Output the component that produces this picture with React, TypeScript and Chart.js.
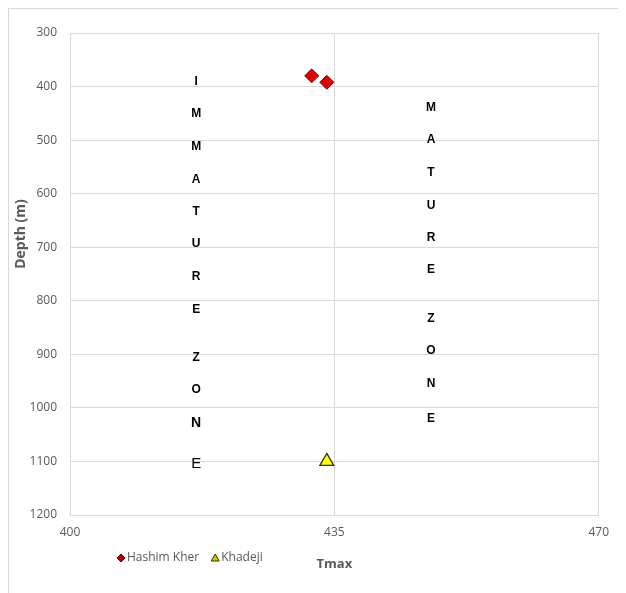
import React, { useEffect, useRef } from "react";
import { Chart, registerables } from "chart.js";

Chart.register(...registerables);

const hashimTmax = [432, 434];
const hashimDepth = [380, 392];
const khadejiTmax = [434];
const khadejiDepth = [1100];

const immatureLetters = ["I", "M", "M", "A", "T", "U", "R", "E", "Z", "O", "N", "E"];
const immatureDepths = [390, 450, 513, 573, 633, 693, 755, 816, 906, 966, 1029, 1104];
const immatureTmax = 416.7;

const matureLetters = ["M", "A", "T", "U", "R", "E", "Z", "O", "N", "E"];
const matureDepths = [440, 500, 560, 622, 682, 742, 834, 893, 955, 1020];
const matureTmax = 447.8;

const xTicks = [400, 435, 470];
const yTitle = "Depth (m)";

const FONT = "'Open Sans', 'Liberation Sans', sans-serif";

const letterPlugin = {
  id: "zoneLetters",
  afterDatasetsDraw(chart: any) {
    const { ctx, scales } = chart;
    const xs = scales.x;
    const ys = scales.y;
    ctx.save();
    ctx.fillStyle = "#000";
    ctx.textAlign = "center";
    ctx.textBaseline = "middle";
    immatureLetters.forEach((l, i) => {
      const last = i >= immatureLetters.length - 2;
      if (i === immatureLetters.length - 1) ctx.font = "15px 'Liberation Sans', Arial, sans-serif";
      else if (last) ctx.font = "bold 14px 'Liberation Sans', Arial, sans-serif";
      else ctx.font = "bold 12px 'Liberation Sans', Arial, sans-serif";
      ctx.fillText(l, xs.getPixelForValue(immatureTmax), ys.getPixelForValue(immatureDepths[i]));
    });
    ctx.font = "bold 12px 'Liberation Sans', Arial, sans-serif";
    matureLetters.forEach((l, i) => {
      ctx.fillText(l, xs.getPixelForValue(matureTmax), ys.getPixelForValue(matureDepths[i]));
    });
    ctx.restore();
  },
  afterDraw(chart: any) {
    const { ctx } = chart;
    ctx.save();
    // y-axis title
    ctx.save();
    ctx.translate(12, 225);
    ctx.rotate(-Math.PI / 2);
    ctx.font = "bold 14px " + FONT;
    ctx.fillStyle = "#595959";
    ctx.textAlign = "center";
    ctx.textBaseline = "middle";
    ctx.fillText(yTitle, 0, 0);
    ctx.restore();
    // legend
    ctx.font = "12px " + FONT;
    ctx.textBaseline = "middle";
    ctx.textAlign = "left";
    let x = 108;
    const y = 549;
    chart.data.datasets.forEach((ds: any) => {
      ctx.fillStyle = ds.legendColor;
      ctx.strokeStyle = ds.legendBorder;
      ctx.lineWidth = 1;
      ctx.beginPath();
      if (ds.pointStyle === "rectRot") {
        ctx.moveTo(x + 4, y - 4);
        ctx.lineTo(x + 8, y);
        ctx.lineTo(x + 4, y + 4);
        ctx.lineTo(x, y);
      } else {
        ctx.moveTo(x + 4, y - 4);
        ctx.lineTo(x + 8, y + 3);
        ctx.lineTo(x, y + 3);
      }
      ctx.closePath();
      ctx.fill();
      ctx.stroke();
      ctx.fillStyle = "#595959";
      ctx.fillText(ds.label, x + 10, y);
      x += 10 + ctx.measureText(ds.label).width + 12;
    });
    ctx.restore();
  },
};

export default function App() {
  const ref = useRef<HTMLCanvasElement>(null);
  useEffect(() => {
    if (!ref.current) return;
    const chart = new Chart(ref.current, {
      type: "scatter",
      data: {
        datasets: [
          {
            label: "Hashim Kher",
            data: hashimTmax.map((t, i) => ({ x: t, y: hashimDepth[i] })),
            pointStyle: "rectRot",
            pointRadius: 7,
            backgroundColor: "#e00000",
            borderColor: "#7a0000",
            borderWidth: 1,
            legendColor: "#b00000",
            legendBorder: "#7a0000",
          } as any,
          {
            label: "Khadeji",
            data: khadejiTmax.map((t, i) => ({ x: t, y: khadejiDepth[i] })),
            pointStyle: "triangle",
            pointRadius: 8,
            backgroundColor: "#ffff00",
            borderColor: "#333300",
            borderWidth: 1.3,
            legendColor: "#c8c800",
            legendBorder: "#333300",
          } as any,
        ],
      },
      options: {
        animation: false,
        responsive: false,
        layout: { padding: { top: 24, right: 13, bottom: 22, left: 0 } },
        plugins: { legend: { display: false }, tooltip: { enabled: false } },
        scales: {
          x: {
            type: "linear",
            min: 400,
            max: 470,
            afterBuildTicks: (s: any) => {
              s.ticks = xTicks.map((v) => ({ value: v }));
            },
            grid: { color: "#d9d9d9", drawTicks: false },
            border: { display: true, color: "#d9d9d9" },
            ticks: { color: "#595959", font: { family: FONT, size: 12 }, padding: 10, callback: (v: any) => String(v) },
            title: {
              display: true,
              text: "Tmax",
              color: "#595959",
              font: { family: FONT, size: 13, weight: "bold" },
              padding: { top: 7, bottom: 0 },
            },
          },
          y: {
            type: "linear",
            reverse: true,
            min: 300,
            max: 1200,
            afterFit: (s: any) => {
              s.width = 61;
            },
            ticks: { stepSize: 100, color: "#595959", font: { family: FONT, size: 12 }, padding: 13, callback: (v: any) => String(v) },
            grid: { color: "#d9d9d9", drawTicks: false },
            border: { display: true, color: "#d9d9d9" },
            title: { display: false },
          },
        },
      } as any,
      plugins: [letterPlugin],
    });
    return () => chart.destroy();
  }, []);
  return (
    <div style={{ width: 610, height: 585, border: "1px solid #d9d9d9", background: "#fff" }}>
      <canvas ref={ref} width={610} height={585} style={{ display: "block" }} />
    </div>
  );
}
